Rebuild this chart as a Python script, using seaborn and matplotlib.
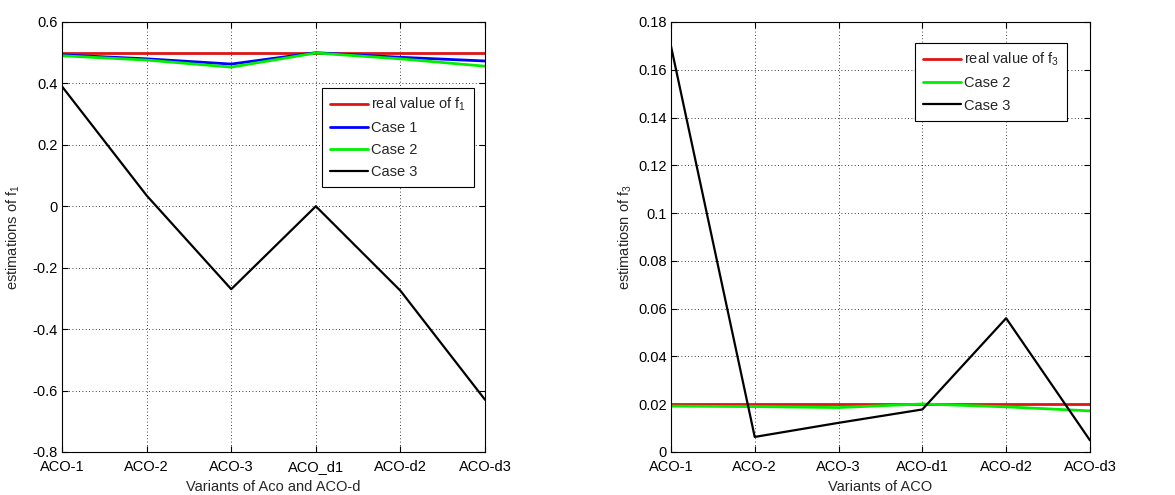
import matplotlib
matplotlib.use("Agg")
import matplotlib.pyplot as plt
import seaborn as sns
import numpy as np

# f1 estimations per ACO variant
variants_f1 = ["ACO-1", "ACO-2", "ACO-3", "ACO_d1", "ACO-d2", "ACO-d3"]
real_f1 = [0.5, 0.5, 0.5, 0.5, 0.5, 0.5]
case1_f1 = [0.493, 0.48, 0.463, 0.5, 0.485, 0.473]
case2_f1 = [0.49, 0.476, 0.453, 0.499, 0.48, 0.456]
case3_f1 = [0.39, 0.035, -0.27, 0.0, -0.275, -0.63]

# f3 estimations per ACO variant
variants_f3 = ["ACO-1", "ACO-2", "ACO-3", "ACO-d1", "ACO-d2", "ACO-d3"]
real_f3 = [0.02, 0.02, 0.02, 0.02, 0.02, 0.02]
case2_f3 = [0.0192, 0.0190, 0.0186, 0.0201, 0.0189, 0.0172]
case3_f3 = [0.17, 0.0063, 0.0122, 0.0178, 0.056, 0.0049]

yticks_f1 = [-0.8, -0.6, -0.4, -0.2, 0, 0.2, 0.4, 0.6]
yticks_f3 = [0, 0.02, 0.04, 0.06, 0.08, 0.1, 0.12, 0.14, 0.16, 0.18]

sns.set_style("ticks")
plt.rcParams["font.family"] = ["Liberation Sans Narrow", "Liberation Sans", "DejaVu Sans"]
plt.rcParams["mathtext.default"] = "regular"
plt.rcParams["font.size"] = 10

fig = plt.figure(figsize=(11.75, 4.95), dpi=100)
ax1 = fig.add_axes([0.0528, 0.0869, 0.36, 0.8687])
ax2 = fig.add_axes([0.571, 0.0869, 0.3566, 0.8687])

RED = "#dd1515"
BLUE = "#0000ff"
GREEN = "#00ee00"


def style_axes(ax, labels, yticks, ylim):
    ax.set_xlim(0, len(labels) - 1)
    ax.set_ylim(*ylim)
    ax.set_xticks(range(len(labels)))
    ax.set_xticklabels(labels)
    ax.set_yticks(yticks)
    ax.set_yticklabels(["0" if v == 0 else f"{v:g}" for v in yticks])
    ax.grid(True, linestyle=(0, (1, 3)), color="black", linewidth=0.6)
    ax.tick_params(direction="in", top=True, right=True, length=4,
                   labelsize=10.5, colors="black")
    ax.tick_params(axis="x", pad=6)
    ax.tick_params(axis="y", pad=3)
    for s in ax.spines.values():
        s.set_visible(True)
        s.set_color("black")
        s.set_linewidth(0.8)


def style_legend(ax, anchor):
    leg = ax.legend(loc="upper left", bbox_to_anchor=anchor, fontsize=10.5,
                    frameon=True, fancybox=False, edgecolor="black", framealpha=1,
                    handlelength=2.6, handletextpad=0.2, labelspacing=0.55,
                    borderpad=0.55, borderaxespad=0)
    leg.get_frame().set_linewidth(0.8)
    return leg


x1 = np.arange(len(variants_f1))
sns.lineplot(x=x1, y=real_f1, ax=ax1, color=RED, lw=2, label="real value of f$_1$")
sns.lineplot(x=x1, y=case1_f1, ax=ax1, color=BLUE, lw=2, label="Case 1")
sns.lineplot(x=x1, y=case2_f1, ax=ax1, color=GREEN, lw=2, label="Case 2")
sns.lineplot(x=x1, y=case3_f1, ax=ax1, color="black", lw=1.6, label="Case 3")
style_axes(ax1, variants_f1, yticks_f1, (-0.8, 0.6))
ax1.set_xlabel("Variants of Aco and ACO-d", fontsize=10.5, labelpad=4)
ax1.set_ylabel("estimations of f$_1$", fontsize=10.5, labelpad=8)
style_legend(ax1, (0.615, 0.847))

x2 = np.arange(len(variants_f3))
sns.lineplot(x=x2, y=real_f3, ax=ax2, color=RED, lw=2, label="real value of f$_3$")
sns.lineplot(x=x2, y=case2_f3, ax=ax2, color=GREEN, lw=2, label="Case 2")
sns.lineplot(x=x2, y=case3_f3, ax=ax2, color="black", lw=1.6, label="Case 3")
style_axes(ax2, variants_f3, yticks_f3, (0, 0.18))
ax2.set_xlabel("Variants of ACO", fontsize=10.5, labelpad=4)
ax2.set_ylabel("estimatiosn of f$_3$", fontsize=10.5, labelpad=3)
style_legend(ax2, (0.582, 0.951))

fig.savefig("out.png", dpi=100, facecolor="white")
